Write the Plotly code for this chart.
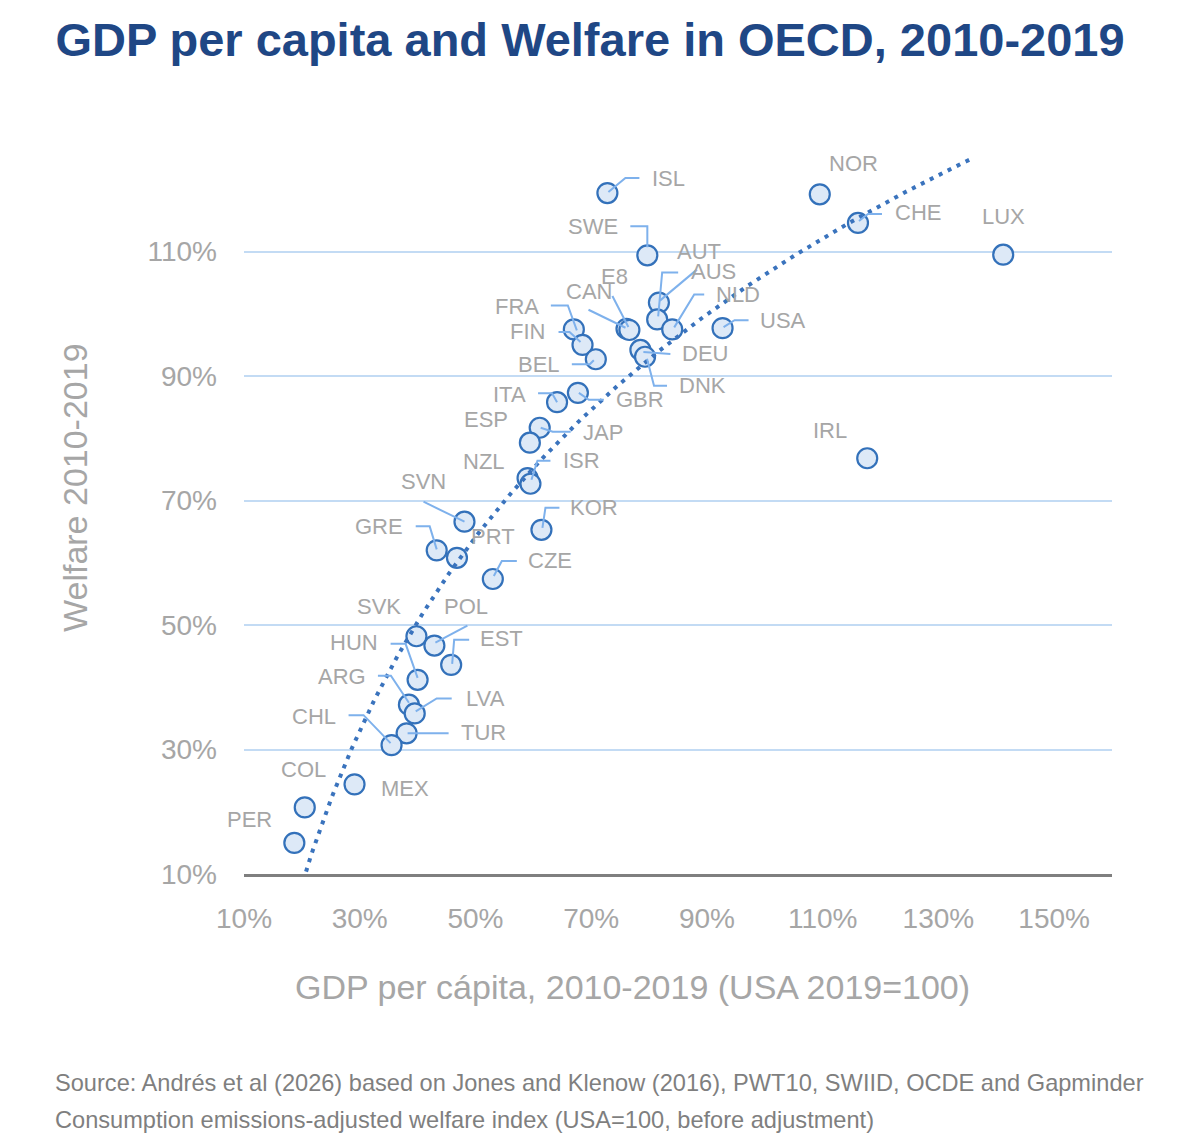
import numpy as np
import plotly.graph_objects as go

# ---------------- data (percent) ----------------
countries = ["ISL", "NOR", "CHE", "LUX", "SWE", "AUS", "AUT", "NLD", "USA", "CAN", "E8",
             "FRA", "FIN", "BEL", "DEU", "DNK", "GBR", "ITA", "JAP", "ESP", "NZL", "ISR",
             "SVN", "KOR", "GRE", "PRT", "CZE", "SVK", "POL", "EST", "HUN", "ARG", "LVA",
             "TUR", "CHL", "MEX", "COL", "PER", "IRL"]
gdp = [72.8, 109.5, 116.1, 141.2, 79.7, 81.7, 81.4, 84.0, 92.7, 76.1, 76.6,
       67.0, 68.5, 70.8, 78.5, 79.3, 67.7, 64.1, 61.1, 59.4, 59.0, 59.5,
       48.1, 61.4, 43.3, 46.8, 53.0, 39.8, 42.9, 45.8, 40.0, 38.5, 39.5,
       38.1, 35.5, 29.1, 20.5, 18.7, 117.7]
welfare = [119.4, 119.2, 114.6, 109.5, 109.4, 101.8, 99.1, 97.5, 97.7, 97.6, 97.4,
           97.5, 95.0, 92.7, 94.2, 93.1, 87.3, 85.8, 81.7, 79.3, 73.6, 72.7,
           66.6, 65.3, 62.0, 60.8, 57.4, 48.2, 46.7, 43.6, 41.2, 37.2, 35.8,
           32.6, 30.7, 24.4, 20.7, 15.0, 76.8]

x_ticks = [10, 30, 50, 70, 90, 110, 130, 150]
y_ticks = [10, 30, 50, 70, 90, 110]
x_tick_text = [f"{v}%" for v in x_ticks]
y_tick_text = [f"{v}%" for v in y_ticks]

TITLE = "GDP per capita and Welfare in OECD, 2010-2019"
X_TITLE = "GDP per cápita, 2010-2019 (USA 2019=100)"
Y_TITLE = "Welfare 2010-2019"
FOOT1 = "Source: Andrés et al (2026) based on Jones and Klenow (2016), PWT10, SWIID, OCDE and Gapminder"
FOOT2 = "Consumption emissions-adjusted welfare index (USA=100, before adjustment)"

# ---------------- layout geometry / styles ----------------
W, H = 1200, 1144
ML, MR, MT, MB = 244, 88, 152, 270
XR = [10, 160]
YR = [10, 126]
PW, PH = W - ML - MR, H - MT - MB
SX = PW / (XR[1] - XR[0])   # px per unit
SY = PH / (YR[1] - YR[0])
TREND_X_END = 136

GRAY = "#a6a6a6"
NAVY = "#1f4785"
MK_FILL = "#dde9f7"
MK_LINE = "#3371ba"
LEADER = "#7eb1ec"
GRID = "#c3dbf4"
TREND = "#3a73bd"
FONT = "Liberation Sans, Arial, sans-serif"

# label placement: (dx, dy) px from point to label centre, leader polyline px offsets
LABELS = {
    "ISL": (61, -15, [(1, -1), (18, -15), (32, -15)]),
    "SWE": (-54, -29, [(-17, -29), (0, -29), (0, -8)]),
    "AUT": (42, -68, [(21, -47), (5, -47), (1, -3)]),
    "AUS": (55, -31, [(38, -33), (1, -2)]),
    "NLD": (66, -35, [(32, -35), (22, -35), (2, -2)]),
    "USA": (60, -8, [(26, -8), (12, -8), (1, -1)]),
    "E8": (-15, -54, [(-17, -34), (-1, -3)]),
    "CAN": (-38, -37, [(-38, -19), (-1, -1)]),
    "FRA": (-57, -23, [(-23, -24), (-6, -24), (3, 1)]),
    "FIN": (-55, -13, [(-24, -13), (-13, -13), (-2, -3)]),
    "BEL": (-57, 5, [(-24, 5), (-6, 5), (-2, 1)]),
    "DEU": (65, 4, [(30, 4), (3, 2)]),
    "DNK": (57, 29, [(22, 29), (9, 29), (2, 2)]),
    "GBR": (62, 7, [(26, 7), (11, 7), (1, 0)]),
    "ITA": (-48, -8, [(-19, -9), (-5, -9), (0, 0)]),
    "ESP": (-44, -23, []),
    "JAP": (63, 5, [(31, 4), (13, 4), (1, 0)]),
    "NZL": (-44, -17, []),
    "ISR": (51, -23, [(20, -23), (7, -23), (1, -4)]),
    "SVN": (-41, -40, [(-41, -20), (0, 0)]),
    "GRE": (-58, -24, [(-21, -24), (-7, -24), (0, -1)]),
    "PRT": (36, -21, []),
    "KOR": (53, -22, [(18, -22), (4, -22), (1, -2)]),
    "CZE": (57, -18, [(24, -18), (9, -18), (1, -3)]),
    "SVK": (-37, -30, []),
    "POL": (32, -39, [(33, -20), (1, -3)]),
    "EST": (50, -26, [(18, -25), (3, -25), (1, -1)]),
    "HUN": (-64, -37, [(-27, -36), (-12, -36), (0, -2)]),
    "ARG": (-67, -28, [(-31, -29), (-18, -29), (0, -2)]),
    "LVA": (71, -15, [(37, -15), (22, -15), (1, -2)]),
    "TUR": (77, -1, [(42, 0), (1, 0)]),
    "CHL": (-78, -29, [(-43, -30), (-28, -30), (-1, -2)]),
    "MEX": (50, 4, []),
    "COL": (-1, -38, []),
    "PER": (-45, -23, []),
    "NOR": (34, -31, []),
    "CHE": (60, -10, [(24, -9), (10, -9), (1, -2)]),
    "LUX": (0, -38, []),
    "IRL": (-37, -28, []),
}

# ---------------- figure ----------------
fig = go.Figure()

fig.add_trace(go.Scatter(
    x=gdp, y=welfare, mode="markers",
    marker=dict(size=20, color=MK_FILL, line=dict(color=MK_LINE, width=2.2)),
    hovertext=countries, hoverinfo="text+x+y", showlegend=False, cliponaxis=False,
))

# logarithmic trend line fitted to the data
b, a = np.polyfit(np.log(gdp), welfare, 1)
tx = np.linspace(min(gdp), TREND_X_END, 300)
ty = a + b * np.log(tx)
fig.add_trace(go.Scatter(
    x=tx, y=ty, mode="lines",
    line=dict(color=TREND, width=4, dash="4px,6px"),
    hoverinfo="skip", showlegend=False,
))

annotations = []
shapes = []
for c, xv, yv in zip(countries, gdp, welfare):
    dx, dy, leader = LABELS[c]
    annotations.append(dict(
        x=xv, y=yv, xref="x", yref="y", text=c, showarrow=False,
        xshift=dx, yshift=-dy, xanchor="center", yanchor="middle",
        font=dict(family=FONT, size=22, color=GRAY),
    ))
    if leader:
        pts = [(xv + px / SX, yv - py / SY) for px, py in leader]
        path = "M " + " L ".join(f"{p[0]:.4f},{p[1]:.4f}" for p in pts)
        shapes.append(dict(type="path", xref="x", yref="y", path=path,
                           line=dict(color=LEADER, width=2), layer="above"))

def px_x(p):
    return (p - ML) / PW

def px_y(p):
    return (MT + PH - p) / PH

FOOT_FONT = dict(family="Liberation Sans Narrow, Arial Narrow, Liberation Sans, sans-serif",
                 size=23.6, color="#7f7f7f")

annotations += [
    dict(text=X_TITLE, x=px_x(632), y=px_y(987), xref="paper", yref="paper",
         showarrow=False, xanchor="center", yanchor="middle",
         font=dict(family=FONT, size=34, color=GRAY)),
    dict(text=Y_TITLE, x=px_x(75), y=px_y(488), xref="paper", yref="paper",
         showarrow=False, xanchor="center", yanchor="middle", textangle=-90,
         font=dict(family=FONT, size=34, color=GRAY)),
    dict(text=FOOT1, x=px_x(53), y=px_y(1083), xref="paper", yref="paper",
         showarrow=False, xanchor="left", yanchor="middle", font=FOOT_FONT),
    dict(text=FOOT2, x=px_x(53), y=px_y(1120), xref="paper", yref="paper",
         showarrow=False, xanchor="left", yanchor="middle", font=FOOT_FONT),
]

fig.update_layout(
    width=W, height=H, autosize=False,
    margin=dict(l=ML, r=MR, t=MT, b=MB),
    paper_bgcolor="white", plot_bgcolor="white",
    title=dict(text=f"<b>{TITLE}</b>", x=590 / W, y=1 - 40 / H, xref="container",
               yref="container", xanchor="center", yanchor="middle",
               font=dict(family=FONT, size=47, color=NAVY)),
    xaxis=dict(range=XR, tickvals=x_ticks, ticktext=x_tick_text, showgrid=False,
               zeroline=False, showline=True, linecolor="#7f7f7f", linewidth=2.5,
               ticks="", ticklabelstandoff=18,
               tickfont=dict(family=FONT, size=28, color=GRAY)),
    yaxis=dict(range=YR, tickvals=y_ticks, ticktext=y_tick_text, showgrid=True,
               gridcolor=GRID, gridwidth=2, zeroline=False, showline=False,
               ticks="", ticklabelstandoff=26,
               tickfont=dict(family=FONT, size=28, color=GRAY)),
    annotations=annotations,
    shapes=shapes,
    hovermode="closest",
)

fig.write_html("out.html")
